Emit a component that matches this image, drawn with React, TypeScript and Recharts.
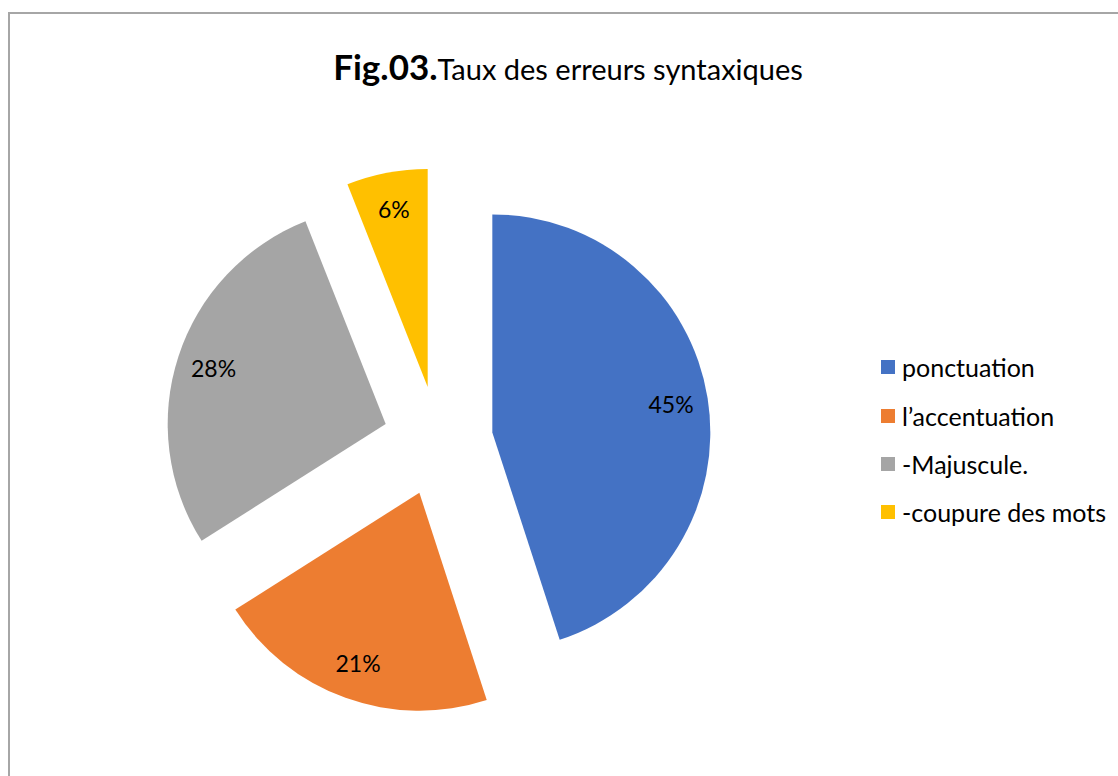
import { PieChart, Pie, Cell, Sector, Legend } from 'recharts';

const categories = ['ponctuation', 'l’accentuation', '-Majuscule.', '-coupure des mots'];
const percentages = [45, 21, 28, 6];
const colors = ['#4472C4', '#ED7D31', '#A5A5A5', '#FFC000'];

const data = categories.map((name, i) => ({ name, value: percentages[i] }));

const RAD = Math.PI / 180;
const EXPLODE = 55;
const FONT = 'Lato, "Open Sans", sans-serif';

function ExplodedSector(props: any) {
  const { cx, cy, midAngle } = props;
  const dx = EXPLODE * Math.cos(-midAngle * RAD);
  const dy = EXPLODE * Math.sin(-midAngle * RAD);
  return <Sector {...props} cx={cx + dx} cy={cy + dy} />;
}

function renderLabel(props: any) {
  const { cx, cy, midAngle, outerRadius, value } = props;
  const r = EXPLODE + outerRadius * 0.83;
  const x = cx + r * Math.cos(-midAngle * RAD);
  const y = cy + r * Math.sin(-midAngle * RAD);
  return (
    <text x={x} y={y} textAnchor="middle" dominantBaseline="central" fill="#000" fontSize={23} fontFamily={FONT}>
      {value}%
    </text>
  );
}

// legend drawn in the original category order (recharts sorts payload by name)
function renderLegend() {
  return (
    <div style={{ fontFamily: FONT, fontSize: 25, color: '#000' }}>
      {categories.map((name, i) => (
        <div key={name} style={{ height: 48.4, display: 'flex', alignItems: 'center', whiteSpace: 'nowrap' }}>
          <span style={{ width: 14, height: 14, background: colors[i], display: 'inline-block', marginRight: 7 }} />
          <span>{name}</span>
        </div>
      ))}
    </div>
  );
}

export default function App() {
  return (
    <div style={{ position: 'fixed', left: 0, top: 0, width: 1118, height: 776, overflow: 'hidden', background: '#fff' }}>
      <div
        style={{
          position: 'absolute',
          left: 8,
          top: 12,
          width: 1120,
          height: 780,
          border: '2px solid #a6a6a6',
          boxSizing: 'border-box',
          background: '#fff',
        }}
      >
        <div
          style={{
            position: 'absolute',
            left: 0,
            right: 0,
            top: 32,
            textAlign: 'center',
            fontFamily: FONT,
            color: '#000',
            lineHeight: '40px',
            whiteSpace: 'nowrap',
          }}
        >
          <span style={{ fontWeight: 700, fontSize: 35 }}>Fig.03.</span>
          <span style={{ fontSize: 29 }}>Taux des erreurs syntaxiques</span>
        </div>
        <PieChart width={1108} height={762}>
          <Pie
            data={data}
            dataKey="value"
            nameKey="name"
            cx={423}
            cy={422}
            outerRadius={218}
            startAngle={90}
            endAngle={-270}
            stroke="none"
            shape={ExplodedSector}
            label={renderLabel}
            labelLine={false}
            isAnimationActive={false}
          >
            {data.map((d, i) => (
              <Cell key={d.name} fill={colors[i]} />
            ))}
          </Pie>
          <Legend
            layout="vertical"
            content={renderLegend}
            wrapperStyle={{ position: 'absolute', left: 871, top: 329, width: 240 }}
          />
        </PieChart>
      </div>
    </div>
  );
}
